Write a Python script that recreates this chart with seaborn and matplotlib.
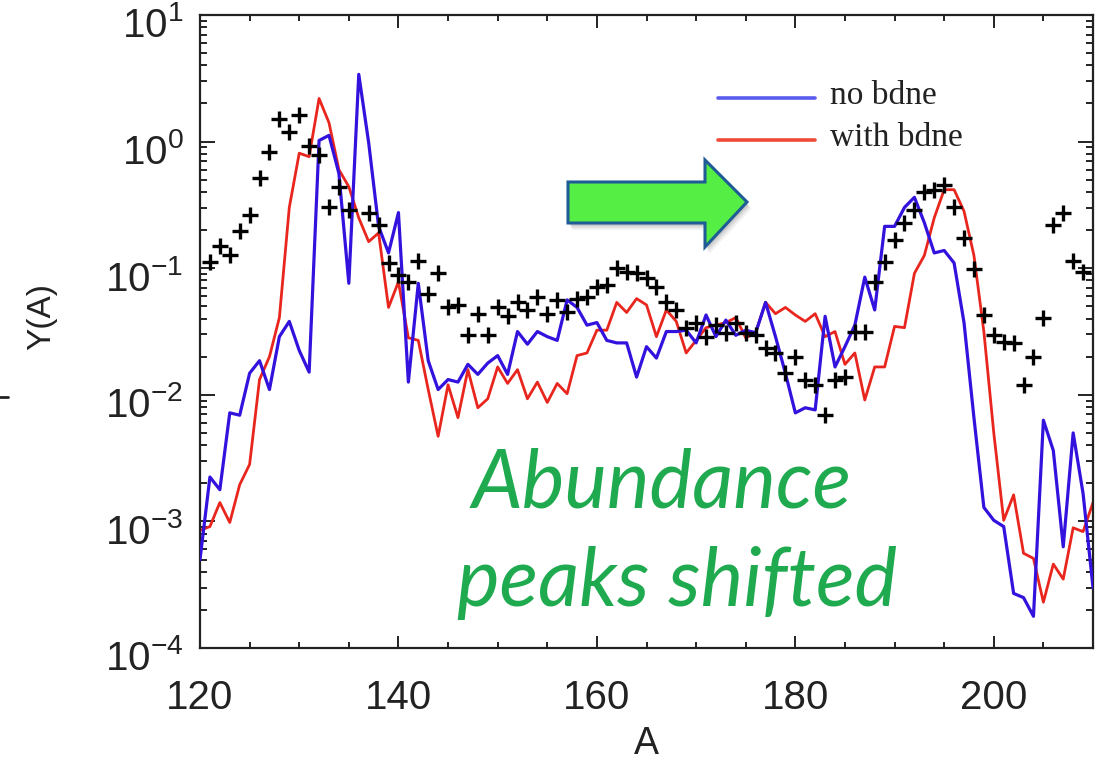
import numpy as np
import pandas as pd
import matplotlib
matplotlib.use("Agg")
import matplotlib.pyplot as plt
import matplotlib.transforms as mtransforms
from matplotlib.lines import Line2D
from matplotlib.patches import Polygon
from matplotlib.ticker import MultipleLocator, LogLocator, NullFormatter
import seaborn as sns

# ---------------- data ----------------
mass_number = list(range(120, 211))

y_no_bdne = [
    5.0e-4, 2.24e-3, 1.78e-3, 7.2e-3, 6.9e-3, 0.0148, 0.0186, 0.011, 0.0288, 0.038,
    0.0224, 0.0151, 1.02, 1.12, 0.56, 0.076, 3.4, 0.98, 0.214, 0.132,
    0.275, 0.0126, 0.076, 0.0186, 0.011, 0.0132, 0.0126, 0.0174, 0.0145, 0.0178,
    0.0204, 0.0145, 0.0316, 0.0251, 0.0316, 0.0288, 0.0269, 0.0562, 0.049, 0.0355,
    0.0372, 0.0269, 0.0257, 0.0257, 0.0138, 0.024, 0.0195, 0.0316, 0.0316, 0.0324,
    0.0257, 0.0427, 0.0288, 0.0389, 0.0295, 0.0324, 0.0309, 0.0537, 0.0288, 0.0148,
    0.0072, 0.0079, 0.0076, 0.0417, 0.0166, 0.024, 0.0355, 0.085, 0.0468, 0.214,
    0.214, 0.302, 0.363, 0.229, 0.132, 0.138, 0.11, 0.0372, 0.0066, 0.00129,
    0.00102, 0.00091, 0.00027, 0.00025, 0.000178, 0.0063, 0.00363, 0.00063, 0.005, 0.00166,
    0.0003,
]

y_with_bdne = [
    0.00085, 0.00091, 0.00141, 0.00098, 0.00195, 0.00282, 0.0132, 0.02, 0.0407, 0.302,
    0.81, 0.76, 2.19, 1.41, 0.6, 0.44, 0.25, 0.162, 0.19, 0.049,
    0.078, 0.0282, 0.0269, 0.011, 0.0047, 0.012, 0.0066, 0.0158, 0.0079, 0.0093,
    0.0166, 0.0123, 0.0158, 0.0093, 0.0126, 0.0087, 0.0123, 0.0102, 0.0204, 0.0214,
    0.0324, 0.0324, 0.0537, 0.0447, 0.0575, 0.0513, 0.0288, 0.0468, 0.038, 0.0214,
    0.0269, 0.0339, 0.0355, 0.0372, 0.0407, 0.0282, 0.0309, 0.0537, 0.0437, 0.049,
    0.0427, 0.038, 0.0437, 0.0288, 0.0316, 0.0174, 0.0214, 0.0091, 0.0166, 0.0166,
    0.0347, 0.0339, 0.091, 0.126, 0.25, 0.417, 0.417, 0.282, 0.126, 0.0316,
    0.005, 0.00102, 0.00162, 0.00056, 0.00051, 0.00023, 0.00046, 0.00035, 0.00089, 0.00083,
    0.00141,
]

solar_A = [121, 122, 123, 124, 125, 126, 127, 128, 129, 130, 131, 132, 133, 134, 135,
           137, 138, 139, 140, 141, 142, 143, 144, 145, 146, 147, 148, 149, 150,
           151, 152, 153, 154, 155, 156, 157, 158, 159, 160, 161, 162, 163, 164, 165,
           166, 167, 168, 169, 170, 171, 172, 173, 174, 175, 176, 177, 178, 179, 180,
           181, 182, 183, 184, 185, 186, 187, 188, 189, 190, 191, 192, 193, 194, 195,
           196, 197, 198, 199, 200, 201, 202, 203, 204, 205, 206, 207, 208, 209]
solar_Y = [0.112, 0.151, 0.126, 0.195, 0.263, 0.513, 0.83, 1.51, 1.2, 1.62, 0.93, 0.78, 0.302, 0.437, 0.288,
           0.275, 0.219, 0.11, 0.089, 0.078, 0.115, 0.063, 0.091, 0.049, 0.051, 0.0295, 0.0437, 0.0295, 0.049,
           0.0417, 0.0537, 0.0468, 0.0589, 0.0437, 0.0562, 0.0447, 0.0575, 0.0589, 0.0708, 0.0741, 0.1, 0.0933, 0.0912, 0.0832,
           0.0708, 0.0537, 0.0468, 0.0339, 0.0372, 0.0288, 0.0355, 0.0309, 0.0372, 0.0309, 0.0295, 0.0234, 0.0214, 0.0148, 0.02,
           0.0132, 0.012, 0.0069, 0.0132, 0.0138, 0.0316, 0.0316, 0.078, 0.112, 0.166, 0.229, 0.288, 0.398, 0.417, 0.457,
           0.302, 0.174, 0.098, 0.0427, 0.0295, 0.0263, 0.0257, 0.012, 0.02, 0.0407, 0.219, 0.275, 0.115, 0.0933]

x_major_ticks = [120, 140, 160, 180, 200]
legend_labels = ["no bdne", "with bdne"]
note_lines = ["Abundance", "peaks shifted"]

# ---------------- style ----------------
sns.set_style("ticks")
plt.rcParams["font.family"] = ["Liberation Sans", "DejaVu Sans"]
plt.rcParams["mathtext.default"] = "regular"

W, H = 1107, 763
fig = plt.figure(figsize=(W / 100, H / 100), dpi=100)
ax = fig.add_axes([200 / W, 1 - 648 / H, 893 / W, 633 / H])

BLUE = "#3312DD"
RED = "#E8261E"
INK = "#222222"

curves = pd.DataFrame({"A": mass_number, "no": y_no_bdne, "with": y_with_bdne})
sns.lineplot(data=curves, x="A", y="no", ax=ax, color=BLUE, linewidth=2.3,
             estimator=None, sort=False, zorder=3)
sns.lineplot(data=curves, x="A", y="with", ax=ax, color=RED, linewidth=2.0,
             estimator=None, sort=False, zorder=2)
sns.scatterplot(x=solar_A, y=solar_Y, ax=ax, marker="+", s=120, color="black",
                linewidth=2.4, zorder=4)

ax.set_yscale("log")
ax.set_xlim(120, 210)
ax.set_ylim(1e-4, 10)
ax.set_xticks(x_major_ticks)
ax.xaxis.set_minor_locator(MultipleLocator(5))
ax.yaxis.set_major_locator(LogLocator(base=10, numticks=10))
ax.yaxis.set_minor_locator(LogLocator(base=10, subs=np.arange(2, 10), numticks=20))
ax.yaxis.set_minor_formatter(NullFormatter())

ax.tick_params(axis="both", which="both", direction="in", top=True, right=True,
               width=1.4, color=INK)
ax.tick_params(axis="x", which="major", length=9, labelsize=29, pad=22)
ax.tick_params(axis="x", which="minor", length=4)
ax.tick_params(axis="y", which="major", length=11, labelsize=29, pad=12)
ax.tick_params(axis="y", which="minor", length=5)
for sp in ax.spines.values():
    sp.set_linewidth(1.6)
    sp.set_color(INK)

fig.canvas.draw()
shift_down = mtransforms.ScaledTranslation(0, -5 / 72, fig.dpi_scale_trans)
for lab in ax.get_yticklabels():
    lab.set_transform(lab.get_transform() + shift_down)
for lab in ax.get_xticklabels() + ax.get_yticklabels():
    lab.set_color(INK)
ax.set_xlabel("")
ax.set_ylabel("")


def fx(px):
    return px / W


def fy(py):
    return 1 - py / H


# axis titles
fig.text(fx(646), fy(744), "A", fontsize=27, color=INK, ha="center", va="center")
fig.text(fx(42), fy(316), "Y(A)", fontsize=24, color=INK, ha="center", va="center",
         rotation=90)

# legend
for (py, col, lab) in [(98, "#5B5BEE", legend_labels[0]), (140, "#EE4A36", legend_labels[1])]:
    fig.add_artist(Line2D([fx(718), fx(815)], [fy(py), fy(py)], color=col, linewidth=2.6,
                          transform=fig.transFigure))
    fig.text(fx(830), fy(py - 2), lab, fontsize=24, family=["Liberation Serif", "DejaVu Serif"],
             color=INK, va="center", ha="left")

# block arrow with soft shadow
arrow_px = [(568, 182), (705, 182), (705, 160), (747, 202), (705, 247), (705, 223), (568, 223)]
for k, a in [(7, 0.10), (5, 0.15), (3, 0.2)]:
    fig.add_artist(Polygon([(fx(x + k * 0.6), fy(y + k)) for x, y in arrow_px], closed=True,
                           transform=fig.transFigure, facecolor="#777777", edgecolor="none",
                           alpha=a))
arrow = Polygon([(fx(x), fy(y)) for x, y in arrow_px], closed=True,
                transform=fig.transFigure, facecolor="#55EE44", edgecolor="#1F5C96", linewidth=2.2)
fig.add_artist(arrow)

# annotation
fig.text(fx(662), fy(484), note_lines[0], fontsize=58, style="italic",
         family=["Lato", "DejaVu Sans"], color="#1FAA50", ha="center", va="center")
fig.text(fx(677), fy(583), note_lines[1], fontsize=58, style="italic",
         family=["Lato", "DejaVu Sans"], color="#1FAA50", ha="center", va="center")

# small mark at the left margin
fig.add_artist(Line2D([0, fx(8)], [fy(397), fy(397)], color=INK, linewidth=2,
                      transform=fig.transFigure))

fig.savefig("out.png", dpi=100, facecolor="white")
